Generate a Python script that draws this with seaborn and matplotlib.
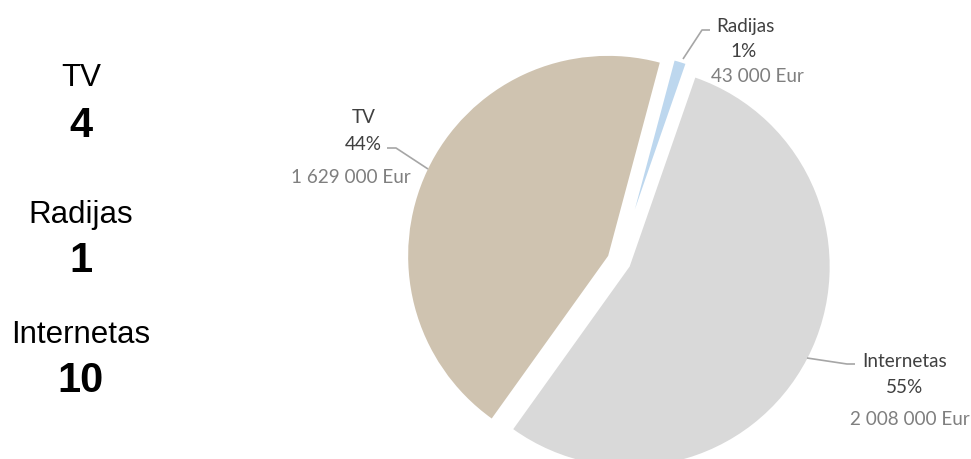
import matplotlib
matplotlib.use("Agg")
import matplotlib.pyplot as plt
import seaborn as sns

# Advertising budget by channel
channels = ["TV", "Radijas", "Internetas"]
budget_eur = [1629000, 43000, 2008000]
share_labels = ["44%", "1%", "55%"]
amount_labels = ["1 629 000 Eur", "43 000 Eur", "2 008 000 Eur"]
slice_colors = ["#CFC3B0", "#BDD7EE", "#D9D9D9"]

# Number of campaigns per channel (side panel)
count_channels = ["TV", "Radijas", "Internetas"]
campaign_counts = [4, 1, 10]

sns.set_theme(style="white")
plt.rcParams["font.family"] = ["Lato", "DejaVu Sans"]

W, H = 971, 460
fig = plt.figure(figsize=(W / 100, H / 100), dpi=100)
fig.patch.set_facecolor("white")

# Pie axes spanning the whole figure, 1 data unit = 200 px
cx, cy, R = 619, 262, 200
ax = fig.add_axes([0, 0, 1, 1])

palette = sns.color_palette(slice_colors)
wedges, _ = ax.pie(budget_eur, colors=palette, startangle=234.4, counterclock=False,
                   explode=[0.06, 0.27, 0.06], radius=1.0, center=(0, 0),
                   wedgeprops=dict(linewidth=0), frame=False)
# the small radio slice is pulled further out and drawn shorter
wedges[1].set_radius(0.77)

ax.set_xlim(-cx / R, (W - cx) / R)
ax.set_ylim(-(H - cy) / R, cy / R)
ax.set_aspect("equal")
ax.axis("off")


def d(px, py):
    return ((px - cx) / R, (cy - py) / R)


dark = "#404040"
light = "#7F7F7F"
line_c = "#A6A6A6"
fs = 13.6

# Data labels: name, percentage, amount (centre x, baseline y in px)
label_pos = {
    "TV": [(364, 123), (363, 150), (351, 183)],
    "Radijas": [(745, 32), (744, 57), (757, 82)],
    "Internetas": [(905, 367), (905, 393), (910, 425)],
}
for name, share, amount in zip(channels, share_labels, amount_labels):
    p_name, p_share, p_amt = label_pos[name]
    ax.text(*d(*p_name), name, ha="center", va="baseline", fontsize=fs, color=dark)
    ax.text(*d(*p_share), share, ha="center", va="baseline", fontsize=fs, color=dark)
    ax.text(*d(*p_amt), amount, ha="center", va="baseline", fontsize=fs, color=light)

# Leader lines
leaders = {
    "TV": [(387, 149), (396, 149), (428, 170)],
    "Radijas": [(710, 31), (702, 31), (683, 60)],
    "Internetas": [(807, 359), (847, 365), (855, 365)],
}
for pts in leaders.values():
    xs, ys = zip(*[d(*p) for p in pts])
    ax.plot(xs, ys, color=line_c, lw=1.2, solid_capstyle="butt")

# Side panel with campaign counts (baselines in px)
side_y = [(86, 137), (223, 272), (343, 392)]
side_font = ["Liberation Sans", "DejaVu Sans"]
for name, cnt, (y1, y2) in zip(count_channels, campaign_counts, side_y):
    fig.text(81 / W, 1 - y1 / H, name, ha="center", va="baseline",
             fontsize=22.5, family=side_font, color="black")
    fig.text(81 / W, 1 - y2 / H, str(cnt), ha="center", va="baseline",
             fontsize=30, fontweight="bold", family=side_font, color="black")

fig.savefig("out.png", dpi=100, facecolor="white")
